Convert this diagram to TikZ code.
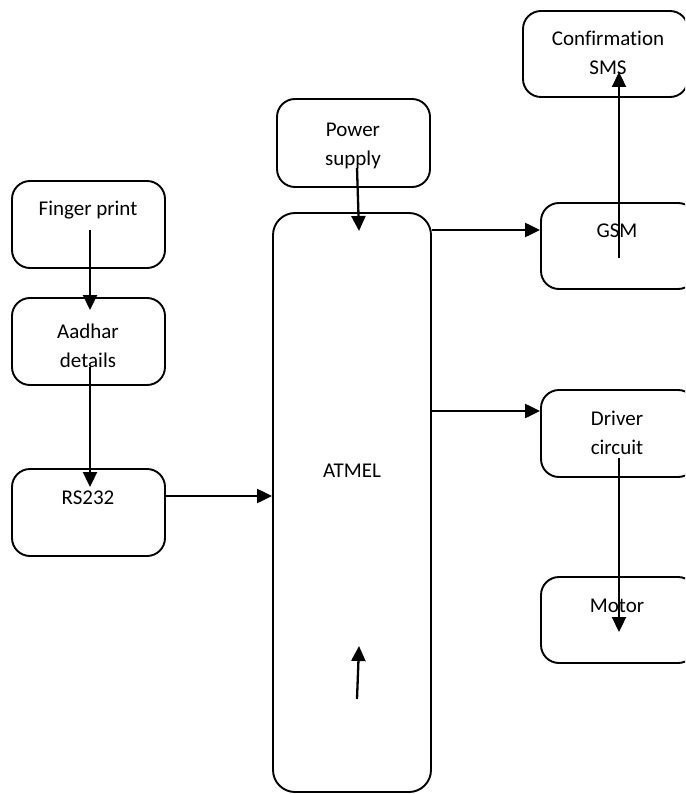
\documentclass[tikz,border=0pt]{standalone}
\usepackage{fontspec}
\setmainfont[RawFeature=-liga]{Carlito}
\usetikzlibrary{arrows.meta}
\tikzset{
  blk/.style={draw=black, line width=1.9pt, rounded corners=18pt, inner sep=0pt},
  lbl/.style={font=\fontsize{21}{29}\selectfont, align=center, anchor=base, inner sep=0pt},
  arr/.style={line width=2.3pt, -{Triangle[length=15pt,width=14pt]}}
}
\begin{document}
\begin{tikzpicture}[x=1pt,y=-1pt]
\useasboundingbox (0,0) rectangle (685,794);
\clip (0,0) rectangle (685,794);
% boxes
\node[blk, minimum width=153pt, minimum height=87pt] (finger) at (88.5,224.5) {};
\node[blk, minimum width=153pt, minimum height=87pt] (aadhar) at (88.5,341.5) {};
\node[blk, minimum width=153pt, minimum height=87pt] (rs) at (88.5,512.5) {};
\node[blk, minimum width=153pt, minimum height=88pt] (power) at (353.5,143) {};
\node[blk, rounded corners=22pt, minimum width=158pt, minimum height=579pt] (atmel) at (352,502.5) {};
\node[blk, minimum width=165pt, minimum height=86pt] (sms) at (605.5,54) {};
\node[blk, minimum width=155pt, minimum height=86pt] (gsm) at (618.5,246) {};
\node[blk, minimum width=155pt, minimum height=87pt] (driver) at (618.5,433.5) {};
\node[blk, minimum width=155pt, minimum height=86pt] (motor) at (618.5,620) {};
% labels (base = baseline of last line)
\node[lbl] (fingerT) at (88,215) {Finger print};
\node[lbl] (aadharT) at (88,367) {Aadhar\\details};
\node[lbl] (rsT) at (88,504) {RS232};
\node[lbl] (powerT) at (353,166) {Power\\supply};
\node[lbl] (atmelT) at (352,477) {ATMEL};
\node[lbl] (smsT) at (608,75) {Confirmation\\SMS};
\node[lbl] (gsmT) at (617,237) {GSM};
\node[lbl] (driverT) at (617,454) {Driver\\circuit};
\node[lbl] (motorT) at (617,612) {Motor};
% connector end points
\coordinate (f1) at (90,230);
\coordinate (a1) at (90,310);
\coordinate (a2) at (90,367);
\coordinate (r1) at (90,487);
\coordinate (r2) at (rs.east |- 0,496);
\coordinate (m1) at (atmel.west |- 0,496);
\coordinate (p1) at (357,168);
\coordinate (m2) at (359,231);
\coordinate (m3) at (357,699);
\coordinate (m4) at (359,646);
\coordinate (m5) at (atmel.east |- 0,230);
\coordinate (g1) at (gsm.west |- 0,230);
\coordinate (m6) at (atmel.east |- 0,411);
\coordinate (d1) at (driver.west |- 0,411);
\coordinate (g2) at (619,258);
\coordinate (s1) at (619,72);
\coordinate (d2) at (619,458);
\coordinate (mo1) at (619,632);
% connectors
\draw[arr] (f1) -- (a1);
\draw[arr] (a2) -- (r1);
\draw[arr] (r2) -- (m1);
\draw[arr] (p1) -- (m2);
\draw[arr] (m3) -- (m4);
\draw[arr] (m5) -- (g1);
\draw[arr] (m6) -- (d1);
\draw[arr] (g2) -- (s1);
\draw[arr] (d2) -- (mo1);
\end{tikzpicture}
\end{document}
